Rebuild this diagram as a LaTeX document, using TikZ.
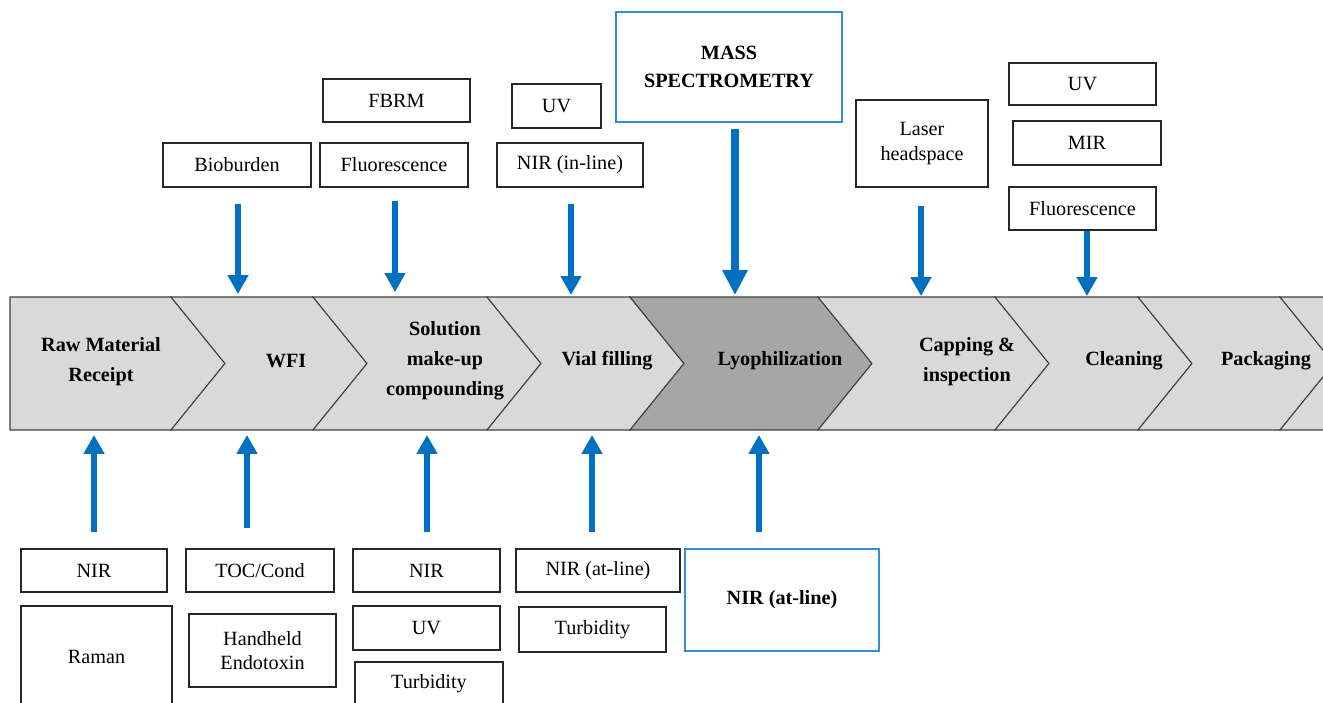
\documentclass[tikz,border=0pt]{standalone}
\usepackage{fontspec}
\setmainfont{Liberation Serif}
\usetikzlibrary{arrows.meta}
\definecolor{PATBlue}{RGB}{0,112,192}
\definecolor{PATFrame}{RGB}{52,140,214}
\definecolor{PATGrey}{RGB}{217,217,217}
\definecolor{PATDark}{RGB}{166,166,166}
\definecolor{PATLine}{RGB}{64,64,64}

\begin{document}
\begin{tikzpicture}[x=0.02cm,y=-0.02cm,
    sensor/.style={draw=black!85,line width=0.7pt,fill=white,inner sep=0pt,align=center,font=\fontsize{11.5}{14}\selectfont},
    keysensor/.style={sensor,draw=PATFrame,font=\fontsize{11.5}{16}\selectfont\bfseries},
    stage/.style={inner sep=0pt,align=center,font=\fontsize{11.5}{17}\selectfont\bfseries},
    chev/.style={draw=PATLine,line width=0.6pt,fill=PATGrey},
    flow/.style={PATBlue,line width=0.12cm,-{Triangle[width=0.4cm,length=0.38cm]}},
    bigflow/.style={flow,line width=0.15cm,-{Triangle[width=0.48cm,length=0.5cm]}}]
      \clip (0,0) rectangle (1323,703);
      % process band
      \draw[chev] (10,297) -- (171,297) -- (225,363.5) -- (171,430) -- (10,430) -- cycle;
      \foreach \xa/\xb/\fc in {171/313/PATGrey,313/487/PATGrey,487/630/PATGrey,630/818/PATDark,818/995/PATGrey,995/1138/PATGrey,1138/1280/PATGrey,1280/1334/PATGrey}
        \draw[chev,fill=\fc] (\xa,297) -- (\xb,297) -- (\xb+54,363.5) -- (\xb,430) -- (\xa,430) -- (\xa+54,363.5) -- cycle;
      \node[stage] (raw) at (101,362) {Raw Material\\Receipt};
      \node[stage] (wfi) at (286,361) {WFI};
      \node[stage] (sol) at (445,361) {Solution\\make-up\\compounding};
      \node[stage] (vial) at (607,361) {Vial filling};
      \node[stage] (lyo) at (780,361) {Lyophilization};
      \node[stage] (cap) at (967,362) {Capping \&\\inspection};
      \node[stage] (clean) at (1124,361) {Cleaning};
      \node[stage] (pack) at (1266,361) {Packaging};

      % in-line tools above the band
      \node[sensor,minimum width=2.96cm,minimum height=0.88cm] (bio) at (237,165) {Bioburden};
      \node[sensor,minimum width=2.94cm,minimum height=0.86cm] (fbrm) at (396.5,100.5) {FBRM};
      \node[sensor,minimum width=2.96cm,minimum height=0.88cm] (fluo) at (394,165) {Fluorescence};
      \node[sensor,minimum width=1.78cm,minimum height=0.88cm] (uvt) at (556.5,106) {UV};
      \node[sensor,minimum width=2.92cm,minimum height=0.88cm] (nirin) at (570,165) {NIR (in-line)};
      \node[keysensor,minimum width=4.52cm,minimum height=2.2cm] (mass) at (729,67) {MASS\\SPECTROMETRY};
      \node[sensor,minimum width=2.64cm,minimum height=1.74cm] (laser) at (922,143.5) {Laser\\headspace};
      \node[sensor,minimum width=2.94cm,minimum height=0.84cm] (uvc) at (1082.5,84) {UV};
      \node[sensor,minimum width=2.96cm,minimum height=0.88cm] (mir) at (1087,143) {MIR};
      \node[sensor,minimum width=2.94cm,minimum height=0.86cm] (fluoc) at (1082.5,208.5) {Fluorescence};

      % at-line tools below the band
      \node[sensor,minimum width=2.92cm,minimum height=0.86cm] (nirr) at (94,570.5) {NIR};
      \node[sensor,minimum width=3.02cm,minimum height=2.04cm] (raman) at (96.5,657) {Raman};
      \node[sensor,minimum width=2.96cm,minimum height=0.86cm] (toc) at (260,570.5) {TOC/Cond};
      \node[sensor,minimum width=2.94cm,minimum height=1.46cm] (endo) at (262.5,650.5) {Handheld\\Endotoxin};
      \node[sensor,minimum width=2.94cm,minimum height=0.86cm] (nirs) at (426.5,570.5) {NIR};
      \node[sensor,minimum width=2.94cm,minimum height=0.88cm] (uvs) at (426.5,628) {UV};
      \node[sensor,minimum width=2.96cm,minimum height=0.88cm] (turbs) at (429,684) {Turbidity};
      \node[sensor,minimum width=3.28cm,minimum height=0.86cm] (nirv) at (598,570.5) {NIR (at-line)};
      \node[sensor,minimum width=2.94cm,minimum height=0.9cm] (turbv) at (592.5,629.5) {Turbidity};
      \node[keysensor,minimum width=3.88cm,minimum height=2.04cm] (nirl) at (782,600) {NIR (at-line)};

      % arrow ends on the band
      \coordinate (t1) at (238,294);
      \coordinate (t2) at (395,292);
      \coordinate (t3) at (571,295);
      \coordinate (t4) at (735,295);
      \coordinate (t5) at (921,296);
      \coordinate (t6) at (1087,296);
      \coordinate (b1) at (94,435);
      \coordinate (b2) at (247,435);
      \coordinate (b3) at (427,435);
      \coordinate (b4) at (592,435);
      \coordinate (b5) at (759,435);

      \draw[flow,shorten <=0.32cm] (bio.south -| t1) -- (t1);
      \draw[flow,shorten <=0.26cm] (fluo.south -| t2) -- (t2);
      \draw[flow,shorten <=0.32cm] (nirin.south -| t3) -- (t3);
      \draw[bigflow,shorten <=0.12cm] (mass.south -| t4) -- (t4);
      \draw[flow,shorten <=0.36cm] (laser.south -| t5) -- (t5);
      \draw[flow] (fluoc.south -| t6) -- (t6);
      \draw[flow,shorten <=0.32cm] (nirr.north -| b1) -- (b1);
      \draw[flow,shorten <=0.4cm] (toc.north -| b2) -- (b2);
      \draw[flow,shorten <=0.32cm] (nirs.north -| b3) -- (b3);
      \draw[flow,shorten <=0.32cm] (nirv.north -| b4) -- (b4);
      \draw[flow,shorten <=0.32cm] (nirl.north -| b5) -- (b5);
    \end{tikzpicture}
\end{document}
